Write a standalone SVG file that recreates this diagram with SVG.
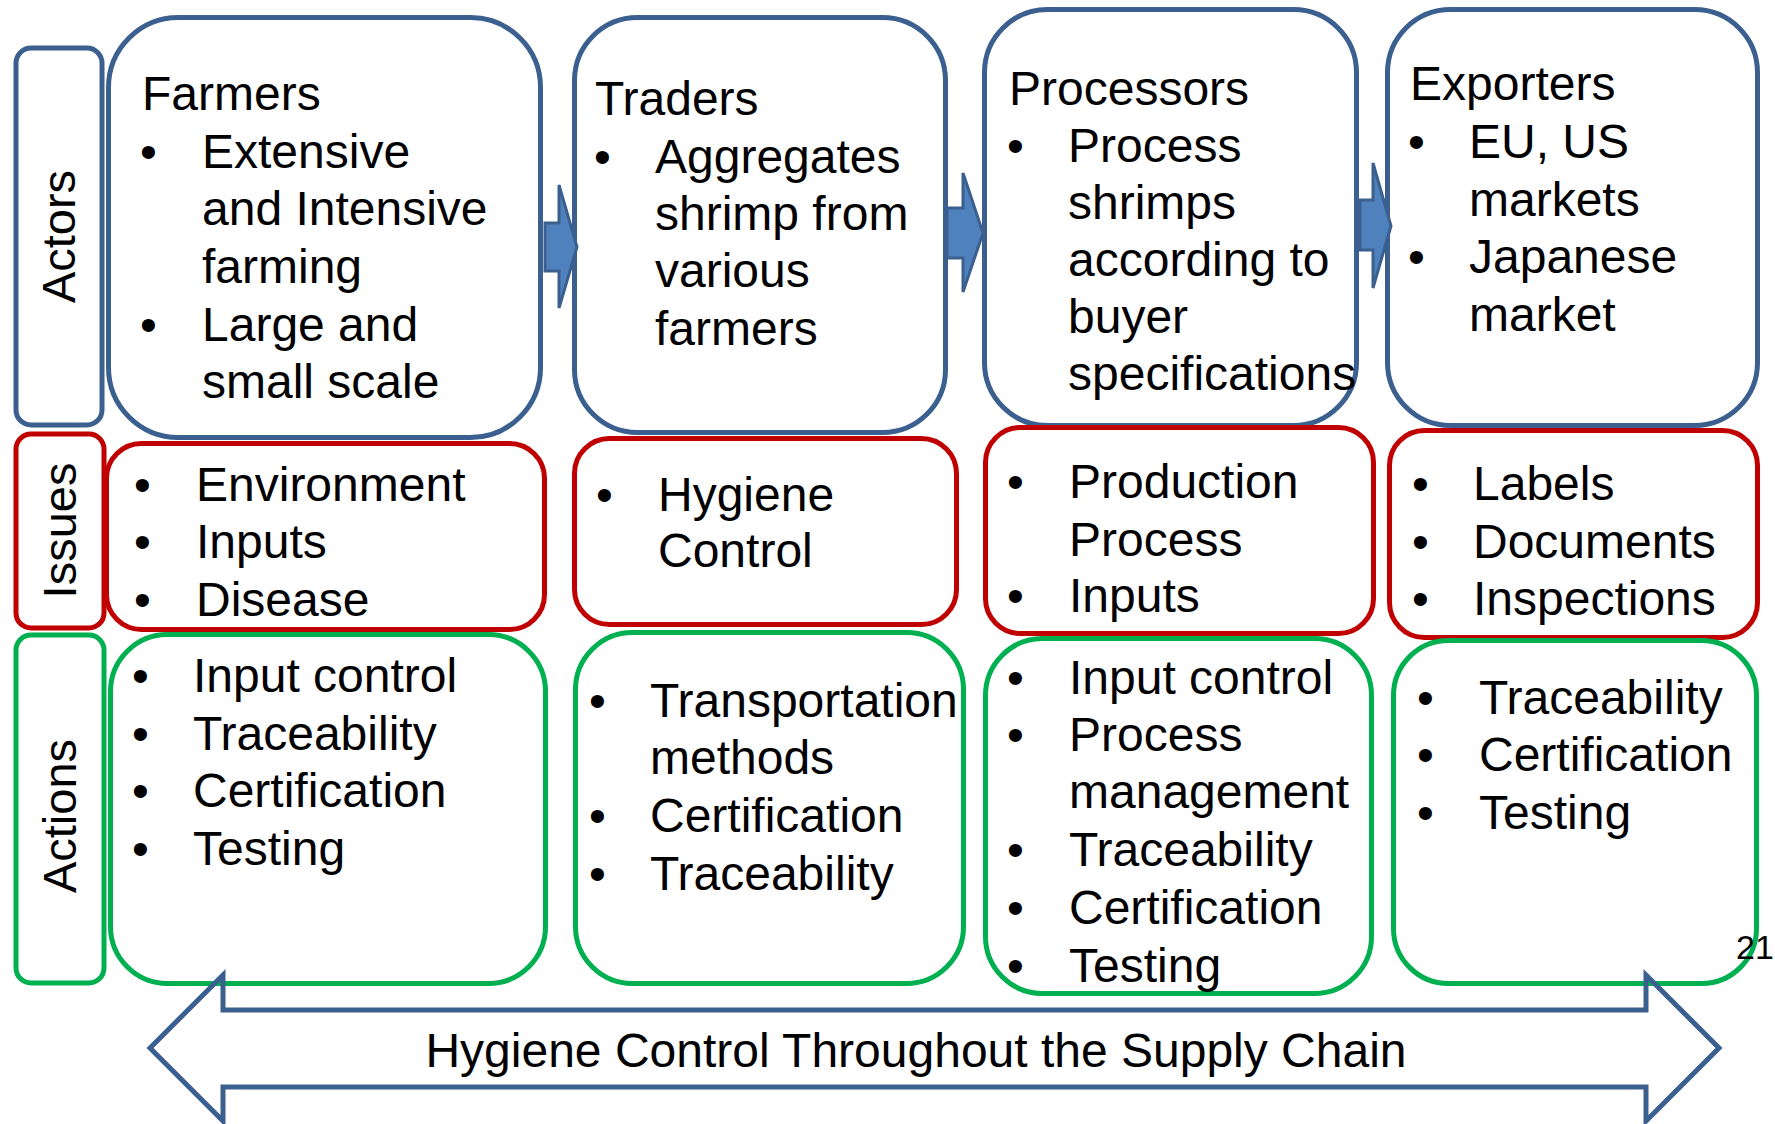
<svg xmlns="http://www.w3.org/2000/svg" width="1775" height="1124" viewBox="0 0 1775 1124">
  <style>
    .box { fill: #ffffff; stroke-width: 5; }
    .actor { stroke: #3B6090; }
    .issue { stroke: #C00000; }
    .action { stroke: #00B050; }
    .flow { fill: #4F81BD; stroke: #3B6090; stroke-width: 3; stroke-linejoin: miter; }
    .band { fill: none; stroke: #3B6090; stroke-width: 5; stroke-linejoin: miter; }
    text { font-family: "Liberation Sans", Arial, sans-serif; font-size: 48px; fill: #000000; }
    .row { text-anchor: middle; font-size: 47px; }
    .page { font-size: 34px; }
  </style>
  <rect width="1775" height="1124" fill="#ffffff"/>

  <!-- Row headers -->
  <g id="label-actors">
    <rect class="box actor" x="16" y="48" width="86" height="377" rx="15"/>
    <text class="row" transform="translate(75,236.5) rotate(-90)">Actors</text>
  </g>
  <g id="label-issues">
    <rect class="box issue" x="16" y="434" width="88" height="194" rx="15"/>
    <text class="row" transform="translate(76,530.5) rotate(-90)">Issues</text>
  </g>
  <g id="label-actions">
    <rect class="box action" x="16" y="635" width="88" height="348" rx="15"/>
    <text class="row" transform="translate(76,816) rotate(-90)">Actions</text>
  </g>

  <!-- Actors row -->
  <g id="actor-farmers">
    <rect class="box actor" x="108.5" y="17.5" width="432" height="420" rx="70"/>
    <text x="142" y="110">Farmers</text>
    <text x="140" y="168">•</text>
    <text x="202" y="168">Extensive</text>
    <text x="202" y="225">and Intensive</text>
    <text x="202" y="283">farming</text>
    <text x="140" y="341">•</text>
    <text x="202" y="341">Large and</text>
    <text x="202" y="398">small scale</text>
  </g>
  <g id="actor-traders">
    <rect class="box actor" x="574.5" y="17.5" width="371" height="415" rx="63"/>
    <text x="595" y="115">Traders</text>
    <text x="594" y="173">•</text>
    <text x="655" y="173">Aggregates</text>
    <text x="655" y="230">shrimp from</text>
    <text x="655" y="287">various</text>
    <text x="655" y="345">farmers</text>
  </g>
  <g id="actor-processors">
    <rect class="box actor" x="984.5" y="9.5" width="372" height="416" rx="63"/>
    <text x="1009" y="105">Processors</text>
    <text x="1007" y="162">•</text>
    <text x="1068" y="162">Process</text>
    <text x="1068" y="219">shrimps</text>
    <text x="1068" y="276">according to</text>
    <text x="1068" y="333">buyer</text>
    <text x="1068" y="390">specifications</text>
  </g>
  <g id="actor-exporters">
    <rect class="box actor" x="1387.5" y="9.5" width="370" height="416" rx="63"/>
    <text x="1410" y="100">Exporters</text>
    <text x="1408" y="158">•</text>
    <text x="1469" y="158">EU, US</text>
    <text x="1469" y="216">markets</text>
    <text x="1408" y="273">•</text>
    <text x="1469" y="273">Japanese</text>
    <text x="1469" y="331">market</text>
  </g>

  <!-- Issues row -->
  <g id="issues-farmers">
    <rect class="box issue" x="106.5" y="443.5" width="438" height="186" rx="35"/>
    <text x="134" y="501">•</text>
    <text x="196" y="501">Environment</text>
    <text x="134" y="558">•</text>
    <text x="196" y="558">Inputs</text>
    <text x="134" y="616">•</text>
    <text x="196" y="616">Disease</text>
  </g>
  <g id="issues-traders">
    <rect class="box issue" x="574.5" y="438.5" width="382" height="186" rx="35"/>
    <text x="596" y="511">•</text>
    <text x="658" y="511">Hygiene</text>
    <text x="658" y="567">Control</text>
  </g>
  <g id="issues-processors">
    <rect class="box issue" x="985.5" y="427.5" width="388" height="206" rx="35"/>
    <text x="1007" y="498">•</text>
    <text x="1069" y="498">Production</text>
    <text x="1069" y="556">Process</text>
    <text x="1007" y="612">•</text>
    <text x="1069" y="612">Inputs</text>
  </g>
  <g id="issues-exporters">
    <rect class="box issue" x="1389.5" y="430.5" width="368" height="207" rx="35"/>
    <text x="1412" y="500">•</text>
    <text x="1473" y="500">Labels</text>
    <text x="1412" y="558">•</text>
    <text x="1473" y="558">Documents</text>
    <text x="1412" y="615">•</text>
    <text x="1473" y="615">Inspections</text>
  </g>

  <!-- Actions row -->
  <g id="actions-farmers">
    <rect class="box action" x="110.5" y="634.5" width="435" height="349" rx="57"/>
    <text x="132" y="692">•</text>
    <text x="193" y="692">Input control</text>
    <text x="132" y="750">•</text>
    <text x="193" y="750">Traceability</text>
    <text x="132" y="807">•</text>
    <text x="193" y="807">Certification</text>
    <text x="132" y="865">•</text>
    <text x="193" y="865">Testing</text>
  </g>
  <g id="actions-traders">
    <rect class="box action" x="575.5" y="632.5" width="388" height="351" rx="57"/>
    <text x="589" y="717">•</text>
    <text x="650" y="717">Transportation</text>
    <text x="650" y="774">methods</text>
    <text x="589" y="832">•</text>
    <text x="650" y="832">Certification</text>
    <text x="589" y="890">•</text>
    <text x="650" y="890">Traceability</text>
  </g>
  <g id="actions-processors">
    <rect class="box action" x="985.5" y="638.5" width="386" height="355" rx="57"/>
    <text x="1007" y="694">•</text>
    <text x="1069" y="694">Input control</text>
    <text x="1007" y="751">•</text>
    <text x="1069" y="751">Process</text>
    <text x="1069" y="808">management</text>
    <text x="1007" y="866">•</text>
    <text x="1069" y="866">Traceability</text>
    <text x="1007" y="924">•</text>
    <text x="1069" y="924">Certification</text>
    <text x="1007" y="982">•</text>
    <text x="1069" y="982">Testing</text>
  </g>
  <g id="actions-exporters">
    <rect class="box action" x="1393.5" y="640.5" width="363" height="343" rx="55"/>
    <text x="1417" y="714">•</text>
    <text x="1479" y="714">Traceability</text>
    <text x="1417" y="771">•</text>
    <text x="1479" y="771">Certification</text>
    <text x="1417" y="829">•</text>
    <text x="1479" y="829">Testing</text>
  </g>

  <!-- Connectors -->
  <g id="connectors">
    <polygon class="flow" points="545,223 559,223 559,185 577,247 559,308 559,271 545,271"/>
    <polygon class="flow" points="947,208 963,208 963,173 983,233 963,292 963,258 947,258"/>
    <polygon class="flow" points="1360,200 1373,200 1373,163 1391,226 1373,288 1373,250 1360,250"/>
  </g>

  <!-- Supply chain band -->
  <g id="supply-chain">
    <polygon class="band" points="150,1048 223,975 223,1010 1646,1010 1646,975 1719,1048 1646,1121 1646,1087 223,1087 223,1121"/>
    <text x="916" y="1067" text-anchor="middle">Hygiene Control Throughout the Supply Chain</text>
  </g>

  <text class="page" x="1736" y="959">21</text>
</svg>
